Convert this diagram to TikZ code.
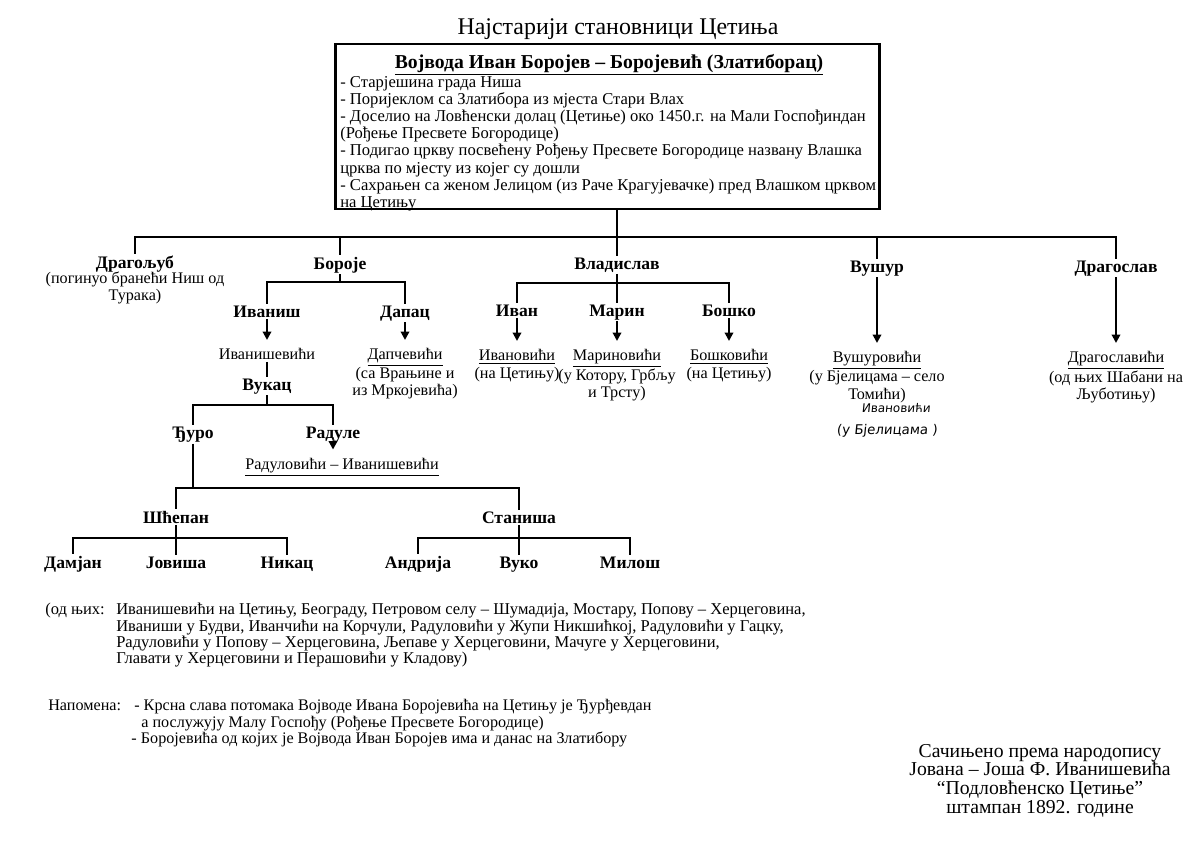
\documentclass[tikz,border=0pt]{standalone}
\usepackage{fontspec}
\setmainfont{Liberation Serif}
\newfontfamily\handfont{DejaVu Sans}[FakeSlant=0.1]
\usetikzlibrary{arrows.meta}

\tikzset{
  ime/.style={font=\fontsize{12.5}{13}\selectfont\bfseries, inner sep=1pt, anchor=base},
  opis/.style={font=\fontsize{11.5}{12.2}\selectfont, align=center, inner sep=1pt},
  rukom/.style={font=\handfont\fontsize{8.5}{10}\selectfont, inner sep=1pt},
  veza/.style={line width=1.5pt},
  strelica/.style={veza, -{Triangle[width=6pt,length=6pt]}, shorten >=5pt},
}

\begin{document}
\begin{tikzpicture}[x=0.025cm, y=-0.025cm]
\useasboundingbox (0,0) rectangle (1200,844);

\node[anchor=base, font=\fontsize{17}{18}\selectfont] (naslov) at (618,34) {Најстарији становници Цетиња};

% vojvoda
\node[draw, line width=2pt, minimum width=13.6cm, minimum height=4.12cm, inner sep=0pt] (vojvoda) at (607.5,126.5) {};
\node[anchor=base, inner sep=1pt, font=\fontsize{14}{15}\selectfont\bfseries] (vojvodaime) at (609,68) {\underline{Војвода Иван Боројев – Боројевић (Златиборац)}};
\node[anchor=north west, align=left, inner sep=0pt, font=\fontsize{11.8}{12.2}\selectfont] (vojvodaopis) at (340,76) {- Старјешина града Ниша\\
- Поријеклом са Златибора из мјеста Стари Влах\\
- Доселио на Ловћенски долац (Цетиње) око 1450.г. на Мали Госпођиндан\\
(Рођење Пресвете Богородице)\\
- Подигао цркву посвећену Рођењу Пресвете Богородице названу Влашка\\
црква по мјесту из којег су дошли\\
- Сахрањен са женом Јелицом (из Раче Крагујевачке) пред Влашком црквом\\
на Цетињу};

% sinovi
\node[ime] (dragoljub) at (135,268) {Драгољуб};
\node[opis, anchor=north] (dragoljubopis) at (135,270) {(погинуо бранећи Ниш од\\Турака)};
\node[ime] (boroje) at (340,269) {Бороје};
\node[ime] (vladislav) at (617,269) {Владислав};
\node[ime] (vushur) at (877,272) {Вушур};
\node[ime] (dragoslav) at (1116,272) {Драгослав};

% boroje
\node[ime] (ivanish) at (267,317) {Иваниш};
\node[ime] (dapac) at (405,317) {Дапац};
\node[opis, anchor=north] (ivanishevici) at (267,347) {Иванишевићи};
\node[opis, anchor=north] (dapcevici) at (405,347) {\underline{Дапчевићи}\\(са Врањине и\\из Мркојевића)};
\node[ime] (vukac) at (267,390) {Вукац};
\node[ime] (djuro) at (193,438) {Ђуро};
\node[ime] (radule) at (333,438) {Радуле};
\node[opis] (radulovici) at (342,467) {\underline{Радуловићи – Иванишевићи}};
\node[ime] (shcepan) at (176,523) {Шћепан};
\node[ime] (stanisha) at (519,523) {Станиша};
\node[ime] (damjan) at (73,568) {Дамјан};
\node[ime] (jovisha) at (176,568) {Јовиша};
\node[ime] (nikac) at (287,568) {Никац};
\node[ime] (andrija) at (418,568) {Андрија};
\node[ime] (vuko) at (519,568) {Вуко};
\node[ime] (milosh) at (630,568) {Милош};

% vladislav
\node[ime] (ivan) at (517,316) {Иван};
\node[ime] (marin) at (617,316) {Марин};
\node[ime] (boshko) at (729,316) {Бошко};
\node[opis, anchor=north] (ivanovici) at (517,348) {\underline{Ивановићи}\\(на Цетињу)};
\node[opis, anchor=north] (marinovici) at (617,348) {\underline{Мариновићи}\\(у Котору, Грбљу\\и Трсту)};
\node[opis, anchor=north] (boshkovici) at (729,348) {\underline{Бошковићи}\\(на Цетињу)};

% vushur, dragoslav
\node[opis, anchor=north] (vushurovici) at (877,350) {\underline{Вушуровићи}\\(у Бјелицама – село\\Томићи)};
\node[rukom] (rukopis1) at (896,408) {Ивановићи};
\node[rukom, font=\handfont\fontsize{9.5}{10}\selectfont] (rukopis2) at (887,431) {(у Бјелицама )};
\node[opis, anchor=north] (dragoslavici) at (1116,350) {\underline{Драгославићи}\\(од њих Шабани на\\Љуботињу)};

% veze
\coordinate (b1) at (617,237);
\coordinate (b2) at (340,282);
\coordinate (b3) at (617,283);
\coordinate (b4) at (267,405);
\coordinate (b5) at (193,488);
\coordinate (b6) at (176,538);
\coordinate (b7) at (519,538);

\draw[veza] (vojvoda.south -| b1) -- (b1) -- (vladislav);
\foreach \c in {dragoljub,boroje,vushur,dragoslav}
  \draw[veza] (b1) -| (\c.north);
\draw[veza] (boroje) -- (b2);
\foreach \c in {ivanish,dapac}
  \draw[veza] (b2) -| (\c.north);
\draw[veza] (vladislav) -- (b3) -- (marin);
\foreach \c in {ivan,boshko}
  \draw[veza] (b3) -| (\c.north);
\foreach \a/\b in {ivanish/ivanishevici,dapac/dapcevici,ivan/ivanovici,marin/marinovici,boshko/boshkovici,vushur/vushurovici,dragoslav/dragoslavici}
  \draw[strelica] (\a) -- (\b);
\draw[veza] (ivanishevici) -- (vukac);
\draw[veza] (vukac) -- (b4);
\foreach \c in {djuro,radule}
  \draw[veza] (b4) -| (\c.north);
\draw[strelica] (radule.south) -- (radule.south |- radulovici.north);
\draw[veza] (djuro) -- (b5) -| (shcepan.north);
\draw[veza] (b5) -| (stanisha.north);
\draw[veza] (shcepan) -- (b6) -- (jovisha);
\foreach \c in {damjan,nikac}
  \draw[veza] (b6) -| (\c.north);
\draw[veza] (stanisha) -- (b7) -- (vuko);
\foreach \c in {andrija,milosh}
  \draw[veza] (b7) -| (\c.north);

% napomene
\node[anchor=north west, inner sep=0pt, font=\fontsize{11.75}{11.6}\selectfont] (odnjih) at (45,603) {\begin{tabular}{@{}p{1.775cm}@{}l@{}}
(од њих: & Иванишевићи на Цетињу, Београду, Петровом селу – Шумадија, Мостару, Попову – Херцеговина,\\
 & Иваниши у Будви, Иванчићи на Корчули, Радуловићи у Жупи Никшићкој, Радуловићи у Гацку,\\
 & Радуловићи у Попову – Херцеговина, Љепаве у Херцеговини, Мачуге у Херцеговини,\\
 & Главати у Херцеговини и Перашовићи у Кладову)
\end{tabular}};
\node[anchor=north west, inner sep=0pt, font=\fontsize{11.5}{11.6}\selectfont] (napomena) at (48,699) {\begin{tabular}{@{}p{2.15cm}@{}l@{}}
Напомена: & - Крсна слава потомака Војводе Ивана Боројевића на Цетињу је Ђурђевдан\\
 & \hspace{5pt}а послужују Малу Госпођу (Рођење Пресвете Богородице)\\
 & \hspace{-2pt}- Боројевића од којих је Војвода Иван Боројев има и  данас на Златибору
\end{tabular}};
\node[anchor=north, align=center, inner sep=0pt, font=\fontsize{14}{13.2}\selectfont] (izvor) at (1040,744) {Сачињено према народопису\\
Јована – Јоша Ф. Иванишевића\\
“Подловћенско Цетиње”\\
штампан 1892. године};
\end{tikzpicture}
\end{document}
